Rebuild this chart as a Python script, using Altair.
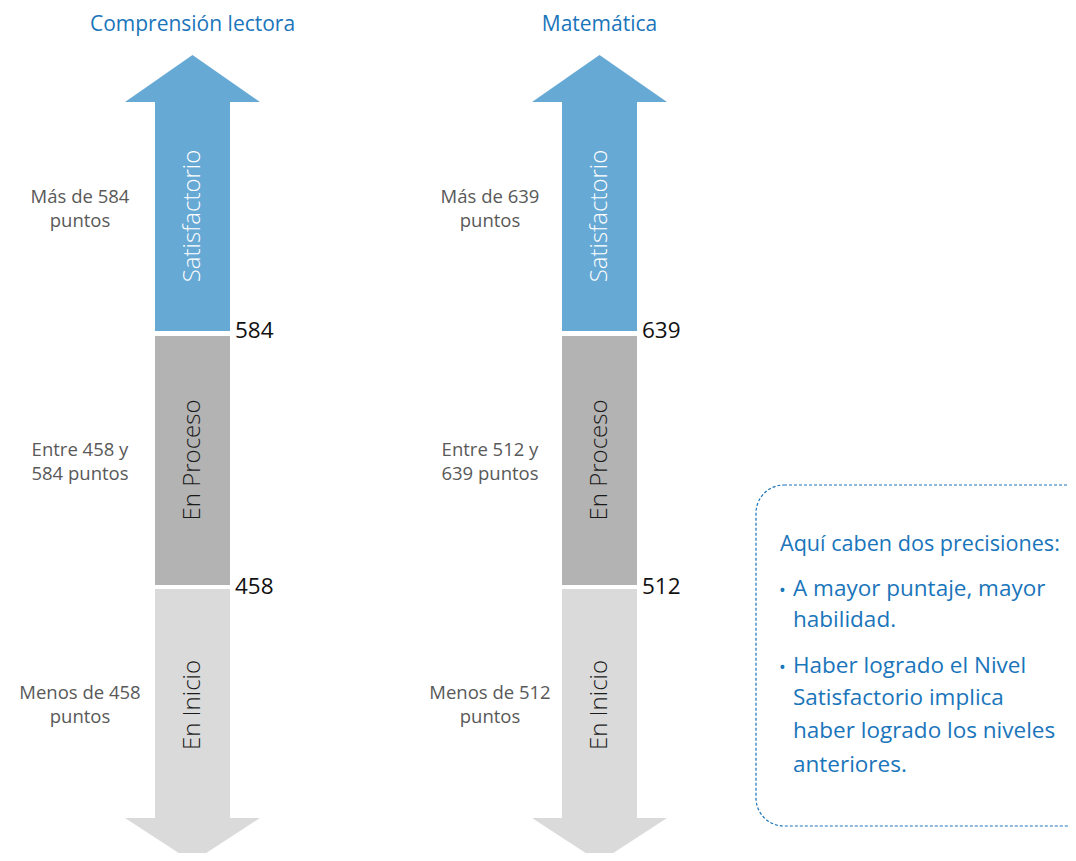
import altair as alt
import pandas as pd

# ---------------- data ----------------
subjects = ["Comprensión lectora", "Matemática"]
upper_cut = [584, 639]
lower_cut = [458, 512]
levels = ["Satisfactorio", "En Proceso", "En Inicio"]
level_colors = ["#67a9d5", "#b3b3b3", "#dadada"]
level_text_colors = ["#ffffff", "#1a1a1a", "#1a1a1a"]
note_title = "Aquí caben dos precisiones:"
note_bullets = [["A mayor puntaje, mayor", "habilidad."],
                ["Haber logrado el Nivel", "Satisfactorio implica",
                 "haber logrado los niveles", "anteriores."]]

# ---------------- layout (pixel positions of the diagram) ----------------
FONT = "Open Sans"
BLUE_TXT = "#1a75bb"
centers = [192.5, 599.5]
label_x = [80, 490]
body_half, head_half = 37.5, 67.5
top_tip, top_base = 55, 102
seg_bounds = [(102, 331), (336, 585), (589, 818)]
bot_base, bot_tip = 818, 862
seg_label_y = [216, 460, 705]
side_label_y = [197, 450, 693]
cut_y = [331, 587]

W, H = 1060, 845
xs = alt.Scale(domain=[8, 8 + W], range=[0, W])
ys = alt.Scale(domain=[8, 8 + H], range=[0, H])

def X(f="x"):
    return alt.X(f"{f}:Q", scale=xs, axis=None)

def Y(f="y"):
    return alt.Y(f"{f}:Q", scale=ys, axis=None)

# body segments
seg_rows = []
for s, cx in zip(subjects, centers):
    for i, lv in enumerate(levels):
        seg_rows.append(dict(subject=s, level=lv, x=cx - body_half, x2=cx + body_half,
                             y=seg_bounds[i][0], y2=seg_bounds[i][1], color=level_colors[i]))
seg_df = pd.DataFrame(seg_rows)
segs = alt.Chart(seg_df).mark_rect().encode(
    x=X(), x2="x2:Q", y=Y(), y2="y2:Q",
    color=alt.Color("color:N", scale=None))

# arrow heads as areas (triangles)
head_rows = []
for s, cx in zip(subjects, centers):
    for px, py in [(cx - head_half, top_base), (cx, top_tip), (cx + head_half, top_base)]:
        head_rows.append(dict(subject=s, part="up", x=px, y=py, y2=top_base, color=level_colors[0]))
    for px, py in [(cx - head_half, bot_base), (cx, bot_tip), (cx + head_half, bot_base)]:
        head_rows.append(dict(subject=s, part="down", x=px, y=py, y2=bot_base, color=level_colors[2]))
head_df = pd.DataFrame(head_rows)
heads = alt.Chart(head_df).mark_area(interpolate="linear").encode(
    x=X(), y=Y(), y2="y2:Q",
    detail=["subject:N", "part:N"],
    color=alt.Color("color:N", scale=None))

# titles
title_df = pd.DataFrame(dict(t=subjects, x=centers, y=[25, 25]))
titles = alt.Chart(title_df).mark_text(font=FONT, fontSize=21, color=BLUE_TXT).encode(
    x=X(), y=Y(), text="t:N")

# vertical level labels
lvl_rows = []
for s, cx in zip(subjects, centers):
    for i, lv in enumerate(levels):
        lvl_rows.append(dict(t=lv, x=cx, y=seg_label_y[i], c=level_text_colors[i]))
lvl_df = pd.DataFrame(lvl_rows)
lvl_text = alt.Chart(lvl_df).mark_text(font=FONT, fontSize=24, angle=270, fontWeight=300).encode(
    x=X(), y=Y(), text="t:N", color=alt.Color("c:N", scale=None))

# side descriptions
side_rows = []
for lx, u, l in zip(label_x, upper_cut, lower_cut):
    side_rows.append(dict(t=f"Más de {u}\npuntos", x=lx, y=side_label_y[0]))
    side_rows.append(dict(t=f"Entre {l} y\n{u} puntos", x=lx, y=side_label_y[1]))
    side_rows.append(dict(t=f"Menos de {l}\npuntos", x=lx, y=side_label_y[2]))
side_df = pd.DataFrame(side_rows)
side = alt.Chart(side_df).mark_text(font=FONT, fontSize=18.5, color="#595959",
                                    lineBreak="\n", lineHeight=24).encode(
    x=X(), y=Y(), text="t:N")

# cut-point numbers
cut_rows = []
for cx, u, l in zip(centers, upper_cut, lower_cut):
    cut_rows.append(dict(t=str(u), x=cx + body_half + 5, y=cut_y[0]))
    cut_rows.append(dict(t=str(l), x=cx + body_half + 5, y=cut_y[1]))
cut_df = pd.DataFrame(cut_rows)
cuts = alt.Chart(cut_df).mark_text(font=FONT, fontSize=22.5, color="#111111", align="left").encode(
    x=X(), y=Y(), text="t:N")

# note box
box_df = pd.DataFrame([dict(x=756, x2=1100, y=485, y2=826)])
box = alt.Chart(box_df).mark_rect(fill=None, stroke=BLUE_TXT, strokeWidth=1.2,
                                  strokeDash=[3, 2], cornerRadius=28).encode(
    x=X(), x2="x2:Q", y=Y(), y2="y2:Q")

title_note = alt.Chart(pd.DataFrame([dict(t=note_title, x=780, y=545)])).mark_text(
    font=FONT, fontSize=21.6, color=BLUE_TXT, align="left").encode(
    x=X(), y=Y(), text="t:N")

note_rows = []
bullet_rows = []
ny = [[589, 620], [666, 698, 731, 765]]
for lines, yy in zip(note_bullets, ny):
    bullet_rows.append(dict(t="•", x=779, y=yy[0] + 3))
    for ln, y in zip(lines, yy):
        note_rows.append(dict(t=ln, x=793, y=y))
note_df = pd.DataFrame(note_rows)
notes = alt.Chart(note_df).mark_text(font=FONT, fontSize=22.5, color=BLUE_TXT, align="left").encode(
    x=X(), y=Y(), text="t:N")
bul = alt.Chart(pd.DataFrame(bullet_rows)).mark_text(font=FONT, fontSize=18, color=BLUE_TXT, align="left").encode(
    x=X(), y=Y(), text="t:N")

chart = alt.layer(segs, heads, titles, lvl_text, side, cuts, box, title_note, notes, bul).properties(
    width=W, height=H, padding=0, autosize=alt.AutoSizeParams(type="none")
).configure_view(stroke=None)

chart.save("out.html", embed_options={"renderer": "svg", "actions": False})
